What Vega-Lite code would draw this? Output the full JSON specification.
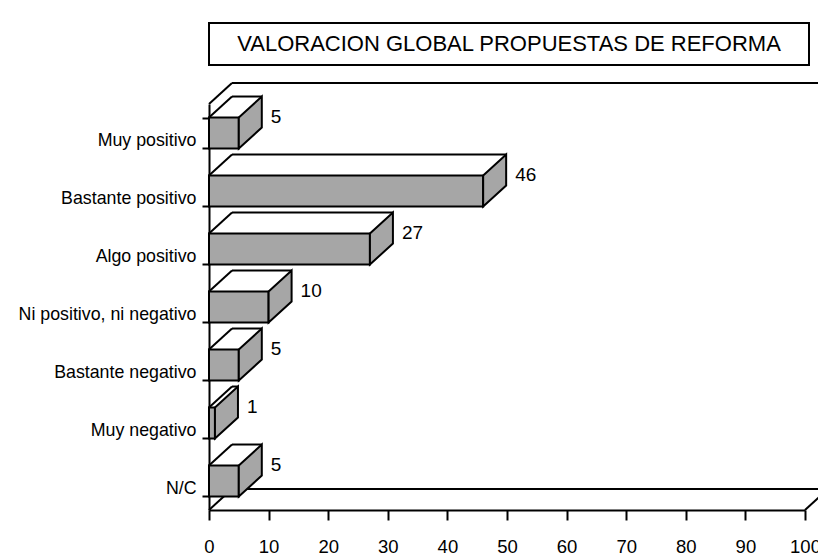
{
  "$schema": "https://vega.github.io/schema/vega-lite/v6.json",
  "padding": {"left": 18, "top": 22, "right": 0, "bottom": 0},
  "background": "white",
  "spacing": 16,
  "config": {"view": {"stroke": null}, "font": "Liberation Sans"},
  "vconcat": [
    {
      "width": 600,
      "height": 42,
      "view": {"stroke": "black", "strokeWidth": 2},
      "data": {"values": [{"titulo": "VALORACION GLOBAL PROPUESTAS DE REFORMA"}]},
      "mark": {"type": "text", "fontSize": 22, "color": "black", "font": "Liberation Sans", "baseline": "middle", "align": "center"},
      "encoding": {"text": {"field": "titulo"}}
    },
    {
      "width": 596,
      "height": 406,
      "data": {"values": [
        {"cat": "Muy positivo", "value": 5},
        {"cat": "Bastante positivo", "value": 46},
        {"cat": "Algo positivo", "value": 27},
        {"cat": "Ni positivo, ni negativo", "value": 10},
        {"cat": "Bastante negativo", "value": 5},
        {"cat": "Muy negativo", "value": 1},
        {"cat": "N/C", "value": 5}
      ]},
      "layer": [
        {
          "data": {"values": [{}]},
          "layer": [
            {"mark": {"type": "rule", "color": "black", "strokeWidth": 2, "x2Offset": 23, "y2Offset": -21},
             "encoding": {"x": {"datum": 0, "type": "quantitative"}, "x2": {"datum": 0}, "y": {"datum": 7, "type": "quantitative", "scale": {"domain": [0, 7]}, "axis": null}, "y2": {"datum": 7}}},
            {"mark": {"type": "rule", "color": "black", "strokeWidth": 2, "xOffset": 23, "x2Offset": 23, "yOffset": -21, "y2Offset": -21},
             "encoding": {"x": {"datum": 0, "type": "quantitative"}, "x2": {"datum": 100}, "y": {"datum": 7, "type": "quantitative", "scale": {"domain": [0, 7]}, "axis": null}, "y2": {"datum": 7}}},
            {"mark": {"type": "rule", "color": "black", "strokeWidth": 2, "xOffset": 23, "x2Offset": 23, "yOffset": -21, "y2Offset": -21},
             "encoding": {"x": {"datum": 0, "type": "quantitative"}, "x2": {"datum": 100}, "y": {"datum": 0, "type": "quantitative", "scale": {"domain": [0, 7]}, "axis": null}, "y2": {"datum": 0}}},
            {"mark": {"type": "rule", "color": "black", "strokeWidth": 2, "x2Offset": 23, "y2Offset": -21},
             "encoding": {"x": {"datum": 100, "type": "quantitative"}, "x2": {"datum": 100}, "y": {"datum": 0, "type": "quantitative", "scale": {"domain": [0, 7]}, "axis": null}, "y2": {"datum": 0}}},
            {"mark": {"type": "rule", "color": "black", "strokeWidth": 2, "x2Offset": 23, "y2Offset": -21},
             "encoding": {"x": {"datum": 0, "type": "quantitative"}, "x2": {"datum": 0}, "y": {"datum": 0, "type": "quantitative", "scale": {"domain": [0, 7]}, "axis": null}, "y2": {"datum": 0}}}
          ]
        },
        {
          "layer": [
            {
              "mark": {"type": "bar", "fill": "#a6a6a6", "stroke": "black", "strokeWidth": 2},
              "encoding": {
                "x": {"field": "value", "type": "quantitative", "title": null,
                      "scale": {"domain": [0, 100], "nice": false},
                      "axis": {"title": null, "values": [0,5,10,15,20,25,30,35,40,45,50,55,60,65,70,75,80,85,90,95,100],
                               "labelExpr": "datum.value % 10 === 0 ? datum.label : ''",
                               "tickSize": {"condition": {"test": "datum.value % 10 === 0", "value": 10}, "value": 6},
                               "tickWidth": 2, "tickColor": "black", "domainColor": "black", "domainWidth": 2,
                               "labelFontSize": 18.5, "labelColor": "black", "labelPadding": 17, "labelFlush": false,
                               "labelOverlap": false, "grid": false, "labelFont": "Liberation Sans"}},
                "y": {"field": "cat", "type": "nominal", "sort": null, "title": null,
                      "scale": {"paddingInner": 0.466, "paddingOuter": 0.233},
                      "axis": {"title": null, "tickBand": "extent", "tickSize": 7, "tickWidth": 2, "tickColor": "black",
                               "domainColor": "black", "domainWidth": 2, "labelFontSize": 17.8, "labelColor": "black",
                               "labelPadding": 6, "labelOffset": 7, "labelFont": "Liberation Sans", "labelLimit": 400}}
              }
            },
            {
              "mark": {"type": "point", "shape": "M0,0L23,-21L23,10L0,31Z", "size": 4, "filled": true, "fill": "#a6a6a6", "stroke": "black", "strokeWidth": 2, "opacity": 1},
              "encoding": {
                "x": {"field": "value", "type": "quantitative", "title": null},
                "y": {"field": "cat", "type": "nominal", "sort": null, "title": null, "bandPosition": 0}
              }
            },
            {
              "mark": {"type": "point", "shape": "M0,0L23,-21", "size": 4, "filled": false, "stroke": "black", "strokeWidth": 2, "opacity": 1},
              "encoding": {
                "x": {"datum": 0, "type": "quantitative"},
                "y": {"field": "cat", "type": "nominal", "sort": null, "title": null, "bandPosition": 0}
              }
            },
            {
              "mark": {"type": "rule", "color": "black", "strokeWidth": 2, "xOffset": 23, "x2Offset": 23, "yOffset": -21},
              "encoding": {
                "x": {"field": "value", "type": "quantitative", "title": null},
                "x2": {"datum": 0},
                "y": {"field": "cat", "type": "nominal", "sort": null, "title": null, "bandPosition": 0}
              }
            },
            {
              "mark": {"type": "text", "align": "left", "baseline": "middle", "xOffset": 32, "yOffset": -1, "fontSize": 19, "color": "black", "font": "Liberation Sans"},
              "encoding": {
                "x": {"field": "value", "type": "quantitative", "title": null},
                "y": {"field": "cat", "type": "nominal", "sort": null, "title": null, "bandPosition": 0},
                "text": {"field": "value"}
              }
            }
          ]
        }
      ],
      "resolve": {"scale": {"y": "independent"}, "axis": {"y": "independent"}}
    }
  ]
}
